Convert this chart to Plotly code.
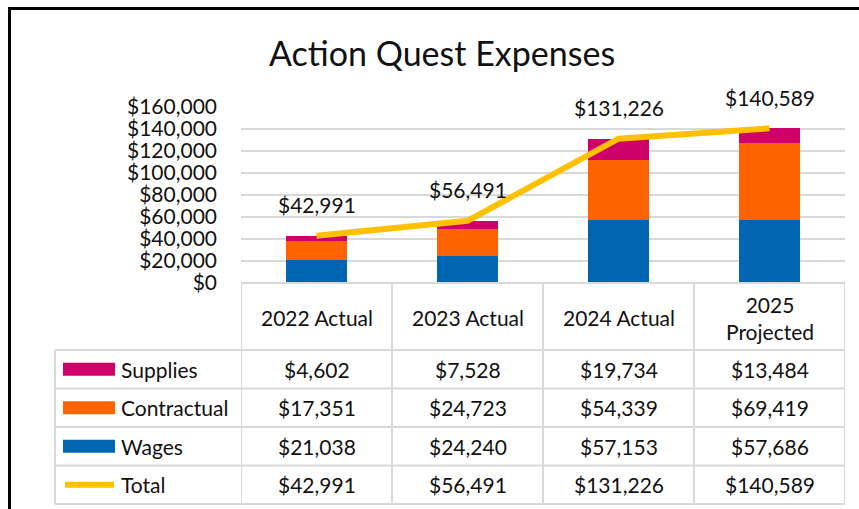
import plotly.graph_objects as go

categories = ["2022 Actual", "2023 Actual", "2024 Actual", "2025<br>Projected"]
supplies = [4602, 7528, 19734, 13484]
contractual = [17351, 24723, 54339, 69419]
wages = [21038, 24240, 57153, 57686]
total = [42991, 56491, 131226, 140589]
series_names = ["Supplies", "Contractual", "Wages", "Total"]
colors = {"Supplies": "#D0006B", "Contractual": "#FF6300", "Wages": "#0066B1", "Total": "#FFC000"}

W, H = 859, 509
L, R, T, B = 241, 14, 107, 226
PW = W - L - R
PH = H - T - B
FONT = "Lato, 'Open Sans', sans-serif"
TXT = "#111111"
GRID = "#D9D9D9"
TS = 21  # table / label font size


def fx(p):
    return (p - L) / PW


def fy(p):
    return (H - B - p) / PH


xs = list(range(len(categories)))
fig = go.Figure()
for name, vals in [("Wages", wages), ("Contractual", contractual), ("Supplies", supplies)]:
    fig.add_trace(go.Bar(x=xs, y=vals, name=name, marker=dict(color=colors[name], line=dict(width=0)),
                         width=0.405, hoverinfo="y"))
fig.add_trace(go.Scatter(x=xs, y=total, name="Total", mode="lines",
                         line=dict(color=colors["Total"], width=6)))

annotations = []
shapes = []
# data labels for totals
for i, v in enumerate(total):
    annotations.append(dict(x=i, y=v, xref="x", yref="y", text=f"${v:,}", showarrow=False,
                            yshift=31, font=dict(size=21, color=TXT, family=FONT)))

# title
annotations.append(dict(x=fx(441.5), y=fy(52), xref="paper", yref="paper", text="Action Quest Expenses",
                        showarrow=False, font=dict(size=34, color=TXT, family=FONT),
                        xanchor="center", yanchor="middle"))

# data table geometry (pixel rows)
row_edges = [283, 350, 388.5, 427, 465.5, 504]
left_edge = 55
line_style = dict(color=GRID, width=2)

# horizontal lines
shapes.append(dict(type="line", xref="paper", yref="paper", x0=fx(L), x1=1, y0=fy(row_edges[0]), y1=fy(row_edges[0]), line=line_style))
for r in row_edges[1:]:
    shapes.append(dict(type="line", xref="paper", yref="paper", x0=fx(left_edge), x1=1, y0=fy(r), y1=fy(r), line=line_style))
# vertical lines for data columns
for i in range(len(categories) + 1):
    shapes.append(dict(type="line", xref="x", yref="paper", x0=i - 0.5, x1=i - 0.5,
                       y0=fy(row_edges[0]), y1=fy(row_edges[-1]), line=line_style))
# legend column left edge
shapes.append(dict(type="line", xref="paper", yref="paper", x0=fx(left_edge), x1=fx(left_edge),
                   y0=fy(row_edges[1]), y1=fy(row_edges[-1]), line=line_style))

# header labels
for i, c in enumerate(categories):
    annotations.append(dict(x=i, y=fy((row_edges[0] + row_edges[1]) / 2 + 1), xref="x", yref="paper", text=c,
                            showarrow=False, font=dict(size=TS, color=TXT, family=FONT),
                            xanchor="center", yanchor="middle"))

rows = [("Supplies", supplies), ("Contractual", contractual), ("Wages", wages), ("Total", total)]
for k, (name, vals) in enumerate(rows):
    cy = (row_edges[k + 1] + row_edges[k + 2]) / 2
    for i, v in enumerate(vals):
        annotations.append(dict(x=i, y=fy(cy), xref="x", yref="paper", text=f"${v:,}", showarrow=False,
                                font=dict(size=TS, color=TXT, family=FONT), xanchor="center", yanchor="middle"))
    annotations.append(dict(x=fx(119), y=fy(cy), xref="paper", yref="paper", text=name, showarrow=False,
                            font=dict(size=TS, color=TXT, family=FONT), xanchor="left", yanchor="middle"))
    if name == "Total":
        shapes.append(dict(type="line", xref="paper", yref="paper", x0=fx(65), x1=fx(114), y0=fy(cy), y1=fy(cy),
                           line=dict(color=colors[name], width=6)))
    else:
        shapes.append(dict(type="rect", xref="paper", yref="paper", x0=fx(63), x1=fx(115),
                           y0=fy(cy - 6.5), y1=fy(cy + 6.5), fillcolor=colors[name], line=dict(width=0)))

# outer chart border (left and top edges visible)
shapes.append(dict(type="line", xref="paper", yref="paper", x0=fx(9.5), x1=fx(9.5), y0=fy(8.5), y1=fy(H + 10),
                   line=dict(color="black", width=3)))
shapes.append(dict(type="line", xref="paper", yref="paper", x0=fx(8), x1=fx(W + 10), y0=fy(8.5), y1=fy(8.5),
                   line=dict(color="black", width=3)))

fig.update_layout(
    width=W, height=H,
    margin=dict(l=L, r=R, t=T, b=B),
    barmode="stack",
    bargap=0.6,
    showlegend=False,
    plot_bgcolor="white",
    paper_bgcolor="white",
    font=dict(family=FONT, color=TXT),
    xaxis=dict(range=[-0.5, len(categories) - 0.5], showticklabels=False, showgrid=False,
               zeroline=False, showline=False, fixedrange=True),
    yaxis=dict(range=[0, 160000], dtick=20000, tickprefix="$", tickformat=",", showgrid=True,
               gridcolor=GRID, gridwidth=1.5, zeroline=False, showline=False,
               tickfont=dict(size=21, color=TXT, family=FONT), ticks="", ticklabelstandoff=23),
    annotations=annotations,
    shapes=shapes,
)

fig.write_html("out.html", config={"displayModeBar": False},
               post_script="document.body.style.margin='0';document.body.style.overflow='hidden';")
